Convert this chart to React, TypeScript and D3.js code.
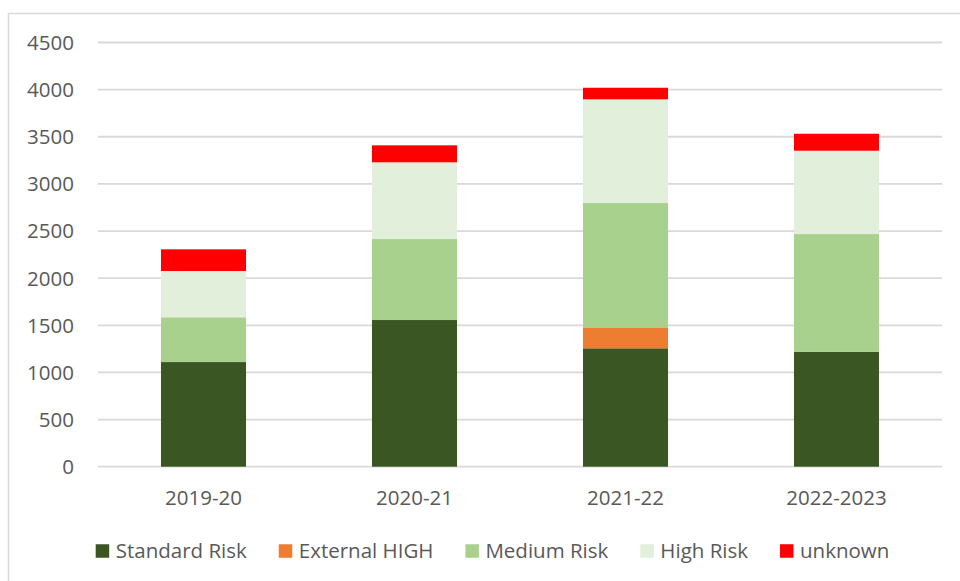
import React, { useEffect, useRef } from "react";
import * as d3 from "d3";

const categories = ["2019-20", "2020-21", "2021-22", "2022-2023"];
const standardRisk = [1110, 1556, 1256, 1220];
const externalHigh = [0, 0, 222, 0];
const mediumRisk = [475, 859, 1319, 1248];
const highRisk = [491, 814, 1100, 884];
const unknownRisk = [230, 180, 123, 180];
const seriesNames = ["Standard Risk", "External HIGH", "Medium Risk", "High Risk", "unknown"];
const seriesColors = ["#3a5623", "#ed7d31", "#a9d18e", "#e2efda", "#ff0000"];
const yTicks = [0, 500, 1000, 1500, 2000, 2500, 3000, 3500, 4000, 4500];

const W = 960;
const H = 581;
const FONT = "'Open Sans', 'Liberation Sans', sans-serif";
const TEXT_COLOR = "#595959";

export default function App() {
  const ref = useRef<SVGSVGElement | null>(null);

  useEffect(() => {
    const svg = d3.select(ref.current);
    svg.selectAll("*").remove();

    const seriesValues = [standardRisk, externalHigh, mediumRisk, highRisk, unknownRisk];
    const rows = categories.map((c, i) => {
      const r: any = { category: c };
      seriesNames.forEach((s, j) => (r[s] = seriesValues[j][i]));
      return r;
    });
    const stacked = d3.stack<any>().keys(seriesNames)(rows);

    const x = d3
      .scaleBand<string>()
      .domain(categories)
      .range([98, 942])
      .paddingInner(0.597)
      .paddingOuter(0.2985);
    const y = d3.scaleLinear().domain([0, 4500]).range([466.7, 42.5]);

    // chart area border (cropped on right and bottom)
    svg
      .append("rect")
      .attr("x", 8.5)
      .attr("y", 13.5)
      .attr("width", 1200)
      .attr("height", 1200)
      .attr("fill", "#ffffff")
      .attr("stroke", "#d9d9d9")
      .attr("stroke-width", 1.5);

    // gridlines
    svg
      .append("g")
      .selectAll("line")
      .data(yTicks)
      .join("line")
      .attr("x1", 98)
      .attr("x2", 942)
      .attr("y1", (d) => y(d))
      .attr("y2", (d) => y(d))
      .attr("stroke", "#d9d9d9")
      .attr("stroke-width", 1.8);

    // y tick labels
    svg
      .append("g")
      .selectAll("text")
      .data(yTicks)
      .join("text")
      .attr("x", 74)
      .attr("y", (d) => y(d))
      .attr("dy", "0.36em")
      .attr("text-anchor", "end")
      .attr("font-family", FONT)
      .attr("font-size", 20.5)
      .attr("fill", TEXT_COLOR)
      .text((d) => String(d));

    // bars
    stacked.forEach((layer, j) => {
      svg
        .append("g")
        .attr("fill", seriesColors[j])
        .selectAll("rect")
        .data(layer.filter((d) => d[1] - d[0] > 0))
        .join("rect")
        .attr("x", (d) => x(d.data.category) as number)
        .attr("width", x.bandwidth())
        .attr("y", (d) => y(d[1]))
        .attr("height", (d) => y(d[0]) - y(d[1]));
    });

    // x labels
    svg
      .append("g")
      .selectAll("text")
      .data(categories)
      .join("text")
      .attr("x", (d) => (x(d) as number) + x.bandwidth() / 2)
      .attr("y", 498)
      .attr("dy", "0.36em")
      .attr("text-anchor", "middle")
      .attr("font-family", FONT)
      .attr("font-size", 20.5)
      .attr("fill", TEXT_COLOR)
      .text((d) => d);

    // legend
    const sq = 13.5;
    const gapText = 6.5;
    const gapItem = 32;
    const legendCenter = 492.5;
    const legendY = 551;
    const lg = svg.append("g");
    const items = seriesNames.map((name, j) => {
      const g = lg.append("g");
      g.append("rect")
        .attr("width", sq)
        .attr("height", sq)
        .attr("y", legendY - sq / 2)
        .attr("fill", seriesColors[j]);
      const t = g
        .append("text")
        .attr("x", sq + gapText)
        .attr("y", legendY)
        .attr("dy", "0.36em")
        .attr("font-family", FONT)
        .attr("font-size", 20.5)
        .attr("fill", TEXT_COLOR)
        .text(name);
      const w = (t.node() as SVGTextElement).getComputedTextLength();
      return { g, width: sq + gapText + w };
    });
    const total = d3.sum(items, (d) => d.width) + gapItem * (items.length - 1);
    let cx = legendCenter - total / 2;
    items.forEach((it) => {
      it.g.attr("transform", `translate(${cx},0)`);
      cx += it.width + gapItem;
    });
  }, []);

  return (
    <svg
      ref={ref}
      width={W}
      height={H}
      style={{ position: "absolute", left: 0, top: 0, background: "#ffffff" }}
    />
  );
}
